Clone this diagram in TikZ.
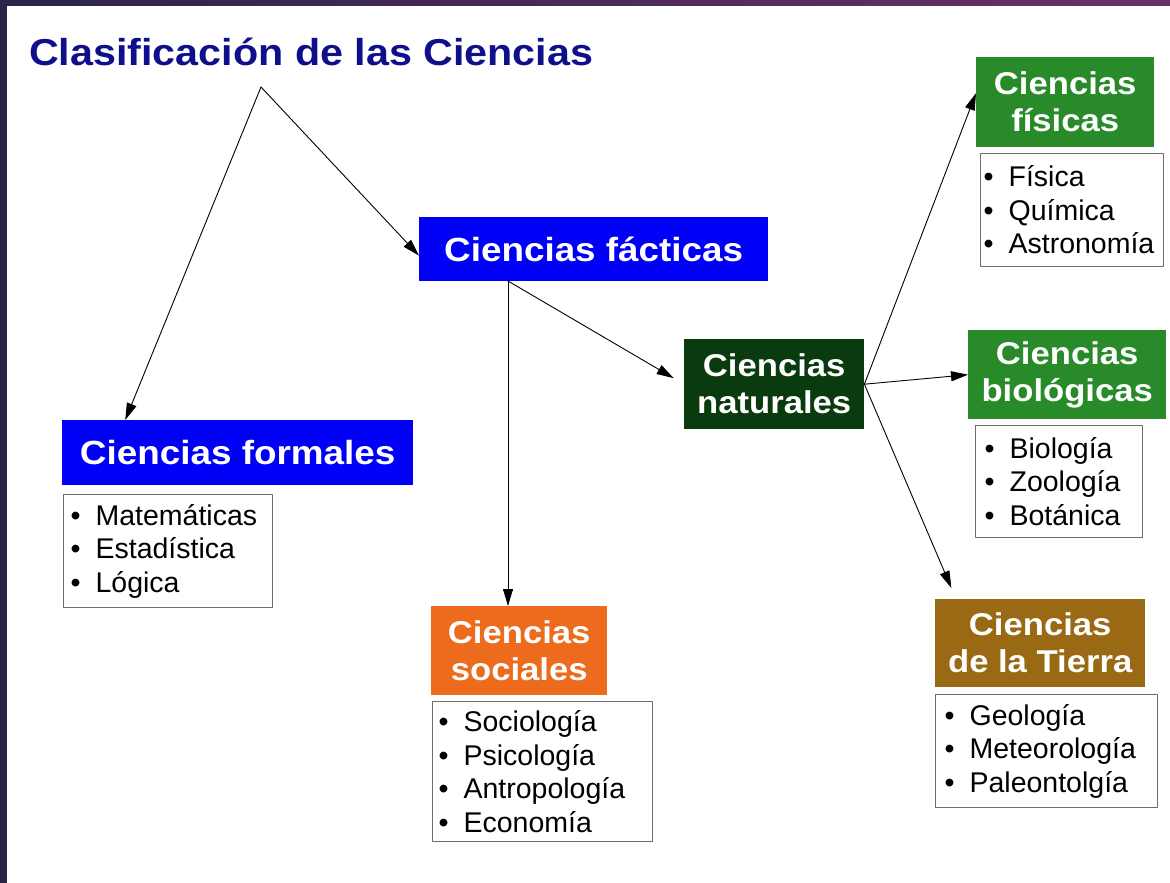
\documentclass[tikz,border=0pt]{standalone}
\usepackage{xcolor}
\usepackage{fontspec}
\setmainfont[FakeStretch=1.1]{Liberation Sans}
\newfontfamily\listafont{Liberation Sans}
\usepackage{tikz}
\usetikzlibrary{calc}
\usetikzlibrary{arrows.meta}
\definecolor{qqqqff}{rgb}{0.,0.,0.97}
\definecolor{qqqqcc}{rgb}{0.06,0.06,0.55}
\definecolor{qqzzqq}{rgb}{0.04,0.23,0.06}
\definecolor{ttvvtt}{rgb}{0.16,0.54,0.16}
\definecolor{ffvvqq}{rgb}{0.93,0.42,0.11}
\definecolor{ccvvqq}{rgb}{0.60,0.41,0.08}
\definecolor{vvvvvv}{rgb}{0.43,0.43,0.43}
\definecolor{mmaa}{rgb}{0.17,0.14,0.28}
\definecolor{mmbb}{rgb}{0.42,0.19,0.41}
\tikzstyle{caja}=[anchor=north west,inner sep=0pt,text=white,align=center,font=\bfseries\fontsize{33.5}{37}\selectfont]
\tikzstyle{cajados}=[caja,font=\bfseries\fontsize{31.5}{37}\selectfont]
\tikzstyle{lista}=[anchor=north west,draw=vvvvvv,line width=1.2pt,fill=white,align=left,inner ysep=0pt,font=\listafont\fontsize{28.5}{33.5}\selectfont]
\newcommand{\itm}[1]{\makebox[25pt][l]{•}#1}

\begin{document}
\begin{tikzpicture}[line cap=round,line join=round,>={Triangle[length=17pt,width=10pt]},x=1pt,y=-1pt]
            \useasboundingbox (0,0) rectangle (1170,883);
            \fill[white] (0,0) rectangle (1170,883);
            \shade[left color=mmaa,right color=mmbb] (0,0) rectangle (1170,6);
            \fill[mmaa] (0,0) rectangle (7,883);
            \node[anchor=base west,inner sep=0pt,text=qqqqcc,font=\bfseries\fontsize{37.5}{40}\selectfont] (titulo) at (29,66) {Clasificación de las Ciencias};
            \coordinate (vertice) at (261,87);
            \node[caja,fill=qqqqff,minimum width=349pt,minimum height=64pt] (facticas) at (419,217) {Ciencias fácticas};
            \node[caja,fill=qqqqff,minimum width=351pt,minimum height=65pt] (formales) at (62,420) {Ciencias formales};
            \node[lista,text width=195pt,minimum height=113pt,inner xsep=7pt] (lformales) at (63,494) {\itm{Matemáticas}\\\itm{Estadística}\\\itm{Lógica}};
            \node[cajados,fill=qqzzqq,minimum width=180pt,minimum height=90pt] (naturales) at (684,339) {Ciencias\\naturales};
            \node[cajados,fill=ffvvqq,minimum width=176pt,minimum height=89pt] (sociales) at (431,606) {Ciencias\\sociales};
            \node[lista,text width=208pt,minimum height=140pt,inner xsep=6pt] (lsociales) at (432,701) {\itm{Sociología}\\\itm{Psicología}\\\itm{Antropología}\\\itm{Economía}};
            \node[cajados,fill=ttvvtt,minimum width=178pt,minimum height=90pt] (fisicas) at (976,57) {Ciencias\\físicas};
            \node[lista,text width=177pt,minimum height=113pt,inner xsep=3pt] (lfisicas) at (980,153) {\itm{Física}\\\itm{Química}\\\itm{Astronomía}};
            \node[cajados,fill=ttvvtt,minimum width=198pt,minimum height=89pt] (biologicas) at (968,330) {Ciencias\\biológicas};
            \node[lista,text width=149pt,minimum height=112pt,inner xsep=9pt] (lbiologicas) at (975,425) {\itm{Biología}\\\itm{Zoología}\\\itm{Botánica}};
            \node[cajados,fill=ccvvqq,minimum width=210pt,minimum height=88pt] (tierra) at (935,599) {Ciencias\\de la Tierra};
            \node[lista,text width=204pt,minimum height=113pt,inner xsep=9pt] (ltierra) at (935,694) {\itm{Geología}\\\itm{Meteorología}\\\itm{Paleontolgía}};
            \coordinate (fbase) at (508,281);
            \begin{scope}[line width=0.9pt]
                \draw [->] (vertice) -- ($(formales.north west)!0.18!(formales.north east)$);
                \draw [->] (vertice) -- ($(facticas.north west)!0.6!(facticas.south west)$);
                \draw [->] (fbase) -- (fbase |- sociales.north);
                \draw [->,shorten >=12pt] (fbase) -- (naturales.west);
                \draw [->] (naturales.east) -- ($(fisicas.south west)!0.6!(fisicas.north west)$);
                \draw [->] (naturales.east) -- (biologicas.west);
                \draw [->,shorten >=12pt] (naturales.east) -- ($(tierra.north west)!0.1!(tierra.north east)$);
            \end{scope}
        \end{tikzpicture}
\end{document}
